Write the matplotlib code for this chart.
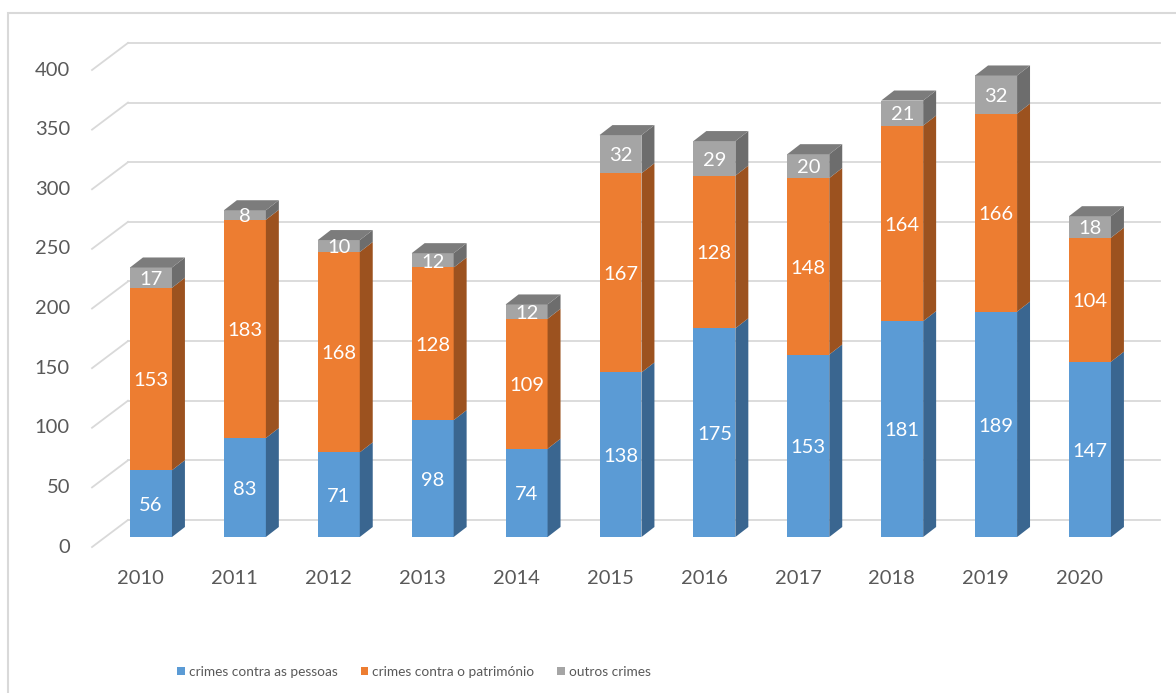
# Crimes por ano - colunas empilhadas com efeito 3D
import numpy as np
import matplotlib.pyplot as plt
from matplotlib import font_manager
from matplotlib.patches import Polygon, Patch, Rectangle

plt.rcParams['font.family'] = ['Lato', 'DejaVu Sans']

# Fonte estreita para a legenda (tipo Calibri), se existir
nomes = {f.name for f in font_manager.fontManager.ttflist}
if 'Liberation Sans Narrow' in nomes:
    fonte_leg, tam_leg = 'Liberation Sans Narrow', 11.8
else:
    fonte_leg, tam_leg = 'Lato', 9.8

# Dados
anos = ['2010', '2011', '2012', '2013', '2014', '2015', '2016', '2017', '2018', '2019', '2020']
pessoas = [56, 83, 71, 98, 74, 138, 175, 153, 181, 189, 147]
patrimonio = [153, 183, 168, 128, 109, 167, 128, 148, 164, 166, 104]
outros = [17, 8, 10, 12, 12, 32, 29, 20, 21, 32, 18]
series = ['crimes contra as pessoas', 'crimes contra o património', 'outros crimes']
yticks = [0, 50, 100, 150, 200, 250, 300, 350, 400]

# Cores (frente, lado, topo)
cores = ['#5B9BD5', '#ED7D31', '#A5A5A5']
cores_lado = ['#3A6690', '#9C521F', '#6D6D6D']
cores_topo = ['#4F86B8', '#C9692A', '#7C7C7C']

# Geometria da perspectiva (unidades de dados)
larg = 0.447
dx, dy = 0.138, 8.4          # profundidade das colunas
dxw, dyw = 0.242, 14.3       # deslocamento ate a parede do fundo
dxf, dyf = -0.142, -8.4      # plano da frente (rotulos)
x_ini, x_fim = -0.245, 10.745

fig = plt.figure(figsize=(11.76, 6.93), dpi=100)
ax = fig.add_axes([0, 0, 1, 1])
ax.set_xlim(-1.608, 10.916)
ax.set_ylim(-130.8, 450.3)
ax.axis('off')

# Borda da area do grafico
fig.patches.append(Rectangle((8 / 1176, -0.05), 1.2, 1 - 13 / 693 + 0.05,
                             transform=fig.transFigure, fill=False,
                             edgecolor='#D9D9D9', linewidth=1.5))

# Grelha na parede do fundo + diagonais no chao lateral
for v in yticks:
    ax.plot([x_ini, x_fim], [v + dyw, v + dyw], color='#D9D9D9', lw=1.3, zorder=1)
    ax.plot([x_ini - 0.383, x_ini], [v + dyf, v + dyw], color='#D9D9D9', lw=1.3, zorder=1)
    ax.text(-0.863, v + dyf, str(v), ha='right', va='center', fontsize=14.5, color='#595959')

x = np.arange(len(anos))
base = np.zeros(len(anos))
dados = [pessoas, patrimonio, outros]
for k, vals in enumerate(dados):
    vals = np.array(vals)
    ax.bar(x, vals, width=larg, bottom=base, color=cores[k], zorder=3)
    for i in range(len(anos)):
        x0 = x[i] - larg / 2
        x1 = x[i] + larg / 2
        b = base[i]
        t = base[i] + vals[i]
        lado = [(x1, b), (x1 + dx, b + dy), (x1 + dx, t + dy), (x1, t)]
        ax.add_patch(Polygon(lado, closed=True, facecolor=cores_lado[k], edgecolor='none', zorder=3))
        if k == len(dados) - 1:
            topo = [(x0, t), (x0 + dx, t + dy), (x1 + dx, t + dy), (x1, t)]
            ax.add_patch(Polygon(topo, closed=True, facecolor=cores_topo[k], edgecolor='none', zorder=3))
        ax.text(x[i], b + vals[i] / 2 - 1.5, str(vals[i]), ha='center', va='center',
                fontsize=14.5, color='white', zorder=5)
    base = base + vals

# Rotulos dos anos
for i, a in enumerate(anos):
    ax.text(x[i] - 0.11, -34.4, a, ha='center', va='center', fontsize=14.5, color='#595959')

# Legenda
handles = [Patch(facecolor=c) for c in cores]
fig.legend(handles, series, loc='center', bbox_to_anchor=(0.352, 0.030), ncol=3,
           frameon=False, handlelength=0.55, handleheight=0.55,
           handletextpad=0.3, columnspacing=1.7, labelcolor='#595959',
           prop={'family': [fonte_leg, 'DejaVu Sans'], 'size': tam_leg})

plt.savefig('out.png', dpi=100)
